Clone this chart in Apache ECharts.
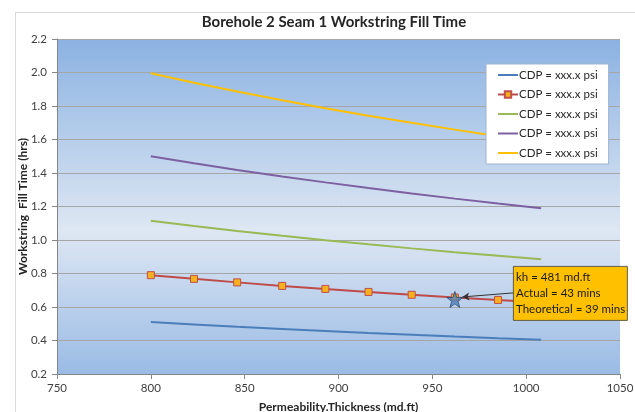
<!DOCTYPE html>
<html><head><meta charset="utf-8">
<script src="https://cdn.jsdelivr.net/npm/echarts@6/dist/echarts.min.js"></script>
<style>html,body{margin:0;padding:0;background:#fff}#c{width:635px;height:412px}</style>
</head><body><div id="c"></div>
<script>
const kh = [800, 823, 846, 870, 893, 916, 939, 962, 985, 1008];
const seriesNames = ['CDP 1', 'CDP 2', 'CDP 3', 'CDP 4', 'CDP 5'];
const legendLabel = 'CDP = xxx.x psi';
const blueVals   = [0.510, 0.496, 0.482, 0.469, 0.457, 0.445, 0.435, 0.424, 0.414, 0.405];
const redVals    = [0.790, 0.768, 0.747, 0.726, 0.708, 0.690, 0.673, 0.657, 0.642, 0.627];
const greenVals  = [1.115, 1.084, 1.054, 1.025, 0.999, 0.974, 0.950, 0.927, 0.906, 0.885];
const purpleVals = [1.500, 1.458, 1.418, 1.379, 1.344, 1.310, 1.278, 1.247, 1.218, 1.190];
const yellowVals = [1.995, 1.939, 1.887, 1.834, 1.787, 1.742, 1.700, 1.659, 1.620, 1.583];
const starPoint = [962, 0.645];
const arrowFrom = [993, 0.684];
const arrowTo = [966, 0.660];
const noteLines = ['kh = 481 md.ft', 'Actual = 43 mins', 'Theoretical = 39 mins'];
const xTicks = {min: 750, max: 1050, interval: 50};
const yTicks = {min: 0.2, max: 2.2, interval: 0.2};

const FONT = 'Lato, "Open Sans", sans-serif';
const colors = ['#4A7EBB', '#BE4B48', '#98B954', '#7D60A0', '#FFC000'];
const allVals = [blueVals, redVals, greenVals, purpleVals, yellowVals];
const starPath = 'path://M50,0 L61.8,35.1 L98.1,34.5 L69.1,56.7 L79.4,91.5 L50,70.9 L20.6,91.5 L30.9,56.7 L1.9,34.5 L38.2,35.1 Z';

const series = allVals.map((vals, i) => ({
  name: seriesNames[i],
  type: 'line',
  data: kh.map((k, j) => [k, vals[j]]),
  showSymbol: i === 1,
  symbol: i === 1 ? 'rect' : 'none',
  symbolSize: 7,
  itemStyle: i === 1 ? {color: '#F7B01E', borderColor: '#C0504D', borderWidth: 1} : {color: colors[i]},
  lineStyle: {color: colors[i], width: 2},
  animation: false,
  z: 3
}));
series.push({
  name: 'star',
  type: 'scatter',
  data: [starPoint],
  symbol: starPath,
  symbolSize: 16,
  itemStyle: {color: '#4F81BD', borderColor: '#2C4D75', borderWidth: 1},
  z: 6,
  animation: false,
  markLine: {
    silent: true,
    symbol: ['none', 'arrow'],
    symbolSize: [6, 7],
    lineStyle: {color: '#333', width: 1, type: 'solid'},
    label: {show: false},
    data: [[{coord: arrowFrom}, {coord: arrowTo}]],
    animation: false
  }
});

const legendData = seriesNames.map((n, i) => i === 1 ? {name: n} : {name: n, itemStyle: {opacity: 0}});

const chart = echarts.init(document.getElementById('c'), null, {renderer: 'canvas'});
chart.setOption({
  backgroundColor: '#fff',
  animation: false,
  title: {
    text: 'Borehole 2 Seam 1 Workstring Fill Time',
    left: 329, top: 10, textAlign: 'center',
    textStyle: {fontFamily: FONT, fontSize: 15, fontWeight: 'bold', color: '#262626'}
  },
  grid: {
    left: 57, right: 15, top: 39, bottom: 38, show: true, borderWidth: 0,
    containLabel: false, outerBoundsMode: 'none',
    backgroundColor: new echarts.graphic.LinearGradient(0, 0, 0, 1, [
      {offset: 0, color: '#8BB2E2'},
      {offset: 0.57, color: '#DEE7F3'},
      {offset: 1, color: '#9ABBE5'}
    ])
  },
  legend: {
    data: legendData,
    orient: 'vertical',
    left: 486, top: 64,
    backgroundColor: '#fff',
    borderColor: '#9DB3D3', borderWidth: 1,
    padding: [5, 11, 5, 11],
    itemWidth: 20, itemHeight: 8, itemGap: 7.5,
    formatter: () => legendLabel,
    textStyle: {fontFamily: FONT, fontSize: 11.5, color: '#262626', padding: [0, 0, 0, -4]}
  },
  xAxis: {
    type: 'value', min: xTicks.min, max: xTicks.max, interval: xTicks.interval,
    name: 'Permeability.Thickness (md.ft)', nameLocation: 'middle', nameGap: 27,
    nameMoveOverlap: false,
    nameTextStyle: {fontFamily: FONT, fontSize: 12, fontWeight: 'bold', color: '#262626'},
    axisLine: {show: true, lineStyle: {color: '#868686'}},
    axisTick: {show: true, length: 5, lineStyle: {color: '#868686'}},
    axisLabel: {fontFamily: FONT, fontSize: 11.5, color: '#404040', margin: 8,
      formatter: v => String(v)},
    splitLine: {show: false}
  },
  yAxis: {
    type: 'value', min: yTicks.min, max: yTicks.max, interval: yTicks.interval,
    name: 'Workstring  Fill Time (hrs)', nameLocation: 'middle', nameGap: 28, nameRotate: 90,
    nameMoveOverlap: false,
    nameTextStyle: {fontFamily: FONT, fontSize: 12, fontWeight: 'bold', color: '#262626'},
    axisLine: {show: true, lineStyle: {color: '#868686'}},
    axisTick: {show: true, length: 5, lineStyle: {color: '#868686'}},
    axisLabel: {fontFamily: FONT, fontSize: 11.5, color: '#404040', margin: 10,
      formatter: v => v.toFixed(1)},
    splitLine: {show: true, lineStyle: {color: '#A6A6A6', width: 1}}
  },
  series: series,
  graphic: [
    {type: 'rect', left: 13, top: 10, z: -10, silent: true,
     shape: {width: 700, height: 500}, style: {fill: 'none', stroke: '#D9D9D9', lineWidth: 1}},
    {type: 'rect', left: 513, top: 266, z: 100, silent: true,
     shape: {x: 0, y: 0, width: 114, height: 54},
     style: {fill: '#FFC000', stroke: '#404040', lineWidth: 0.8}},
    {type: 'text', left: 516, top: 269, z: 101, silent: true,
     style: {text: noteLines.join('\n'), fontFamily: FONT, fontSize: 11.5, lineHeight: 16, fill: '#1a1a1a'}}
  ]
});
</script></body></html>
